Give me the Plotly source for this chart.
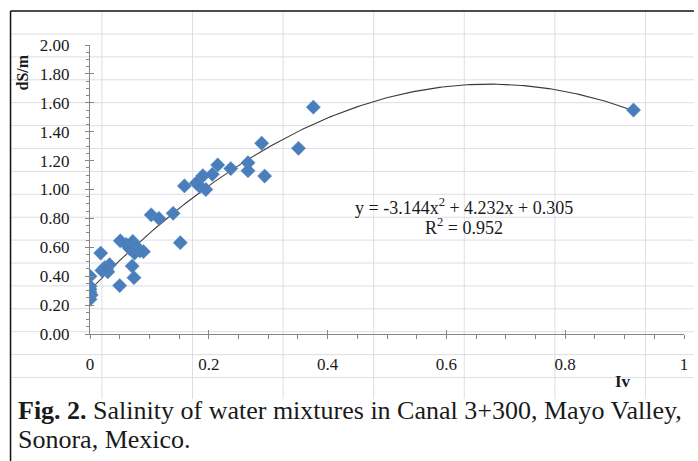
import numpy as np
import plotly.graph_objects as go

# Irrigation-water mixture index (Iv) vs. electrical conductivity (dS/m)
iv = [0.000, 0.000, 0.000, 0.000, 0.002, 0.000,
      0.018, 0.020, 0.025, 0.030, 0.033, 0.028,
      0.050, 0.051, 0.061, 0.072, 0.078, 0.067, 0.075, 0.084, 0.090,
      0.071, 0.074,
      0.103, 0.116, 0.140, 0.152, 0.159,
      0.179, 0.185, 0.195, 0.190, 0.206, 0.215, 0.237,
      0.266, 0.266, 0.289, 0.294, 0.351, 0.376, 0.915]
ds_m = [0.40, 0.33, 0.31, 0.29, 0.27, 0.24,
        0.56, 0.44, 0.46, 0.43, 0.48, 0.45,
        0.335, 0.645, 0.62, 0.64, 0.605, 0.59, 0.56, 0.575, 0.57,
        0.47, 0.39,
        0.825, 0.80, 0.835, 0.632, 1.025,
        1.045, 1.02, 1.00, 1.095, 1.105, 1.17, 1.145,
        1.185, 1.13, 1.32, 1.093, 1.285, 1.57, 1.55]

# Polynomial trend line coefficients (a*x^2 + b*x + c) and fit quality
poly_coef = [-3.144, 4.232, 0.305]
r_squared = 0.952

x_ticks = [0, 0.2, 0.4, 0.6, 0.8, 1]
y_ticks = [0.0, 0.2, 0.4, 0.6, 0.8, 1.0, 1.2, 1.4, 1.6, 1.8, 2.0]

W, H = 698, 461
ML, MR, MT, MB = 90, 10, 45, 127
PW, PH = W - ML - MR, H - MT - MB

def px_x(px):
    return (px - ML) / PW

def px_y(py):
    return (MT + PH - py) / PH

SERIF = "Liberation Serif, Times New Roman, serif"
AXIS_GRAY = "#868686"
TEXT = "#1a1a1a"

x_fit = np.linspace(0, max(iv), 200)
y_fit = np.polyval(poly_coef, x_fit)

fig = go.Figure()
fig.add_trace(go.Scatter(
    x=x_fit, y=y_fit, mode="lines",
    line=dict(color="#3a3a3a", width=1.1),
    hoverinfo="skip", showlegend=False,
))
fig.add_trace(go.Scatter(
    x=iv, y=ds_m, mode="markers",
    marker=dict(symbol="diamond", size=11, color="#4a7ebb",
                line=dict(color="#5b8dc8", width=0.5)),
    showlegend=False,
))
# empty trace carrying the inner half of the crossing major ticks
fig.add_trace(go.Scatter(x=[None], y=[None], xaxis="x2", yaxis="y2",
                         showlegend=False, hoverinfo="skip"))

shapes = []
# worksheet cell grid behind the chart
grid_col = "#dcdee8"
top_px, bottom_px = 11, 399
for k in range(7):
    cx = 102 + 91.2 * k
    shapes.append(dict(type="line", xref="paper", yref="paper",
                       x0=px_x(cx), x1=px_x(cx), y0=px_y(top_px), y1=px_y(bottom_px),
                       line=dict(color=grid_col, width=1), layer="below"))
for k in range(16):
    ry = 34 + 22.9 * k
    shapes.append(dict(type="line", xref="paper", yref="paper",
                       x0=px_x(10), x1=px_x(W), y0=px_y(ry), y1=px_y(ry),
                       line=dict(color=grid_col, width=1), layer="below"))
# figure frame
shapes.append(dict(type="line", xref="paper", yref="paper",
                   x0=px_x(10), x1=px_x(W), y0=px_y(11), y1=px_y(11),
                   line=dict(color="#111111", width=1.5)))
shapes.append(dict(type="line", xref="paper", yref="paper",
                   x0=px_x(10), x1=px_x(10), y0=px_y(11), y1=px_y(H),
                   line=dict(color="#111111", width=1.5)))

eq_text = (f"y = {poly_coef[0]:.3f}x<sup>2</sup> + {poly_coef[1]:.3f}x + {poly_coef[2]:.3f}")
centered = dict(xref="paper", yref="paper", xanchor="center", yanchor="middle",
                showarrow=False)
annotations = [
    dict(text=eq_text, x=px_x(467), y=px_y(206),
         font=dict(family=SERIF, size=18, color=TEXT), **centered),
    dict(text=f"R<sup>2</sup> = {r_squared:.3f}", x=px_x(467), y=px_y(226),
         font=dict(family=SERIF, size=18, color=TEXT), **centered),
    dict(text="<b>dS/m</b>", x=px_x(22), y=px_y(72), textangle=-90,
         font=dict(family=SERIF, size=16, color=TEXT), **centered),
    dict(text="<b>Iv</b>", x=px_x(627), y=px_y(382),
         font=dict(family=SERIF, size=17, color=TEXT), **centered),
    dict(text="<b>Fig. 2.</b> Salinity of water mixtures in Canal 3+300, Mayo Valley,",
         xref="paper", yref="paper", x=px_x(15), y=px_y(427), xanchor="left",
         yanchor="bottom", showarrow=False,
         font=dict(family=SERIF, size=26, color=TEXT)),
    dict(text="Sonora, Mexico.", xref="paper", yref="paper", x=px_x(15), y=px_y(456),
         xanchor="left", yanchor="bottom", showarrow=False,
         font=dict(family=SERIF, size=26, color=TEXT)),
]

fig.update_layout(
    width=W, height=H,
    margin=dict(l=ML, r=MR, t=MT, b=MB),
    paper_bgcolor="white", plot_bgcolor="rgba(0,0,0,0)",
    xaxis=dict(range=[0, 1], tickvals=x_ticks, ticktext=[f"{v:g}" for v in x_ticks],
               showgrid=False, zeroline=False, showline=True,
               linecolor=AXIS_GRAY, linewidth=1,
               ticks="outside", ticklen=4, tickcolor=AXIS_GRAY, ticklabelstandoff=11,
               minor=dict(dtick=0.05, ticks="outside", ticklen=4, tickcolor=AXIS_GRAY),
               tickfont=dict(family=SERIF, size=17, color=TEXT)),
    yaxis=dict(range=[0, 2], tickvals=y_ticks, ticktext=[f"{v:.2f}" for v in y_ticks],
               showgrid=False, zeroline=False, showline=True,
               linecolor=AXIS_GRAY, linewidth=1,
               ticks="outside", ticklen=4, tickcolor=AXIS_GRAY, ticklabelstandoff=12,
               minor=dict(dtick=0.05, ticks="outside", ticklen=3, tickcolor=AXIS_GRAY),
               tickfont=dict(family=SERIF, size=17, color=TEXT)),
    xaxis2=dict(overlaying="x", range=[0, 1], tickvals=x_ticks, showticklabels=False,
                showgrid=False, zeroline=False, showline=False,
                ticks="inside", ticklen=4, tickcolor=AXIS_GRAY),
    yaxis2=dict(overlaying="y", range=[0, 2], tickvals=y_ticks, showticklabels=False,
                showgrid=False, zeroline=False, showline=False, side="left",
                ticks="inside", ticklen=4, tickcolor=AXIS_GRAY),
    shapes=shapes,
    annotations=annotations,
)

fig.write_html("out.html")
